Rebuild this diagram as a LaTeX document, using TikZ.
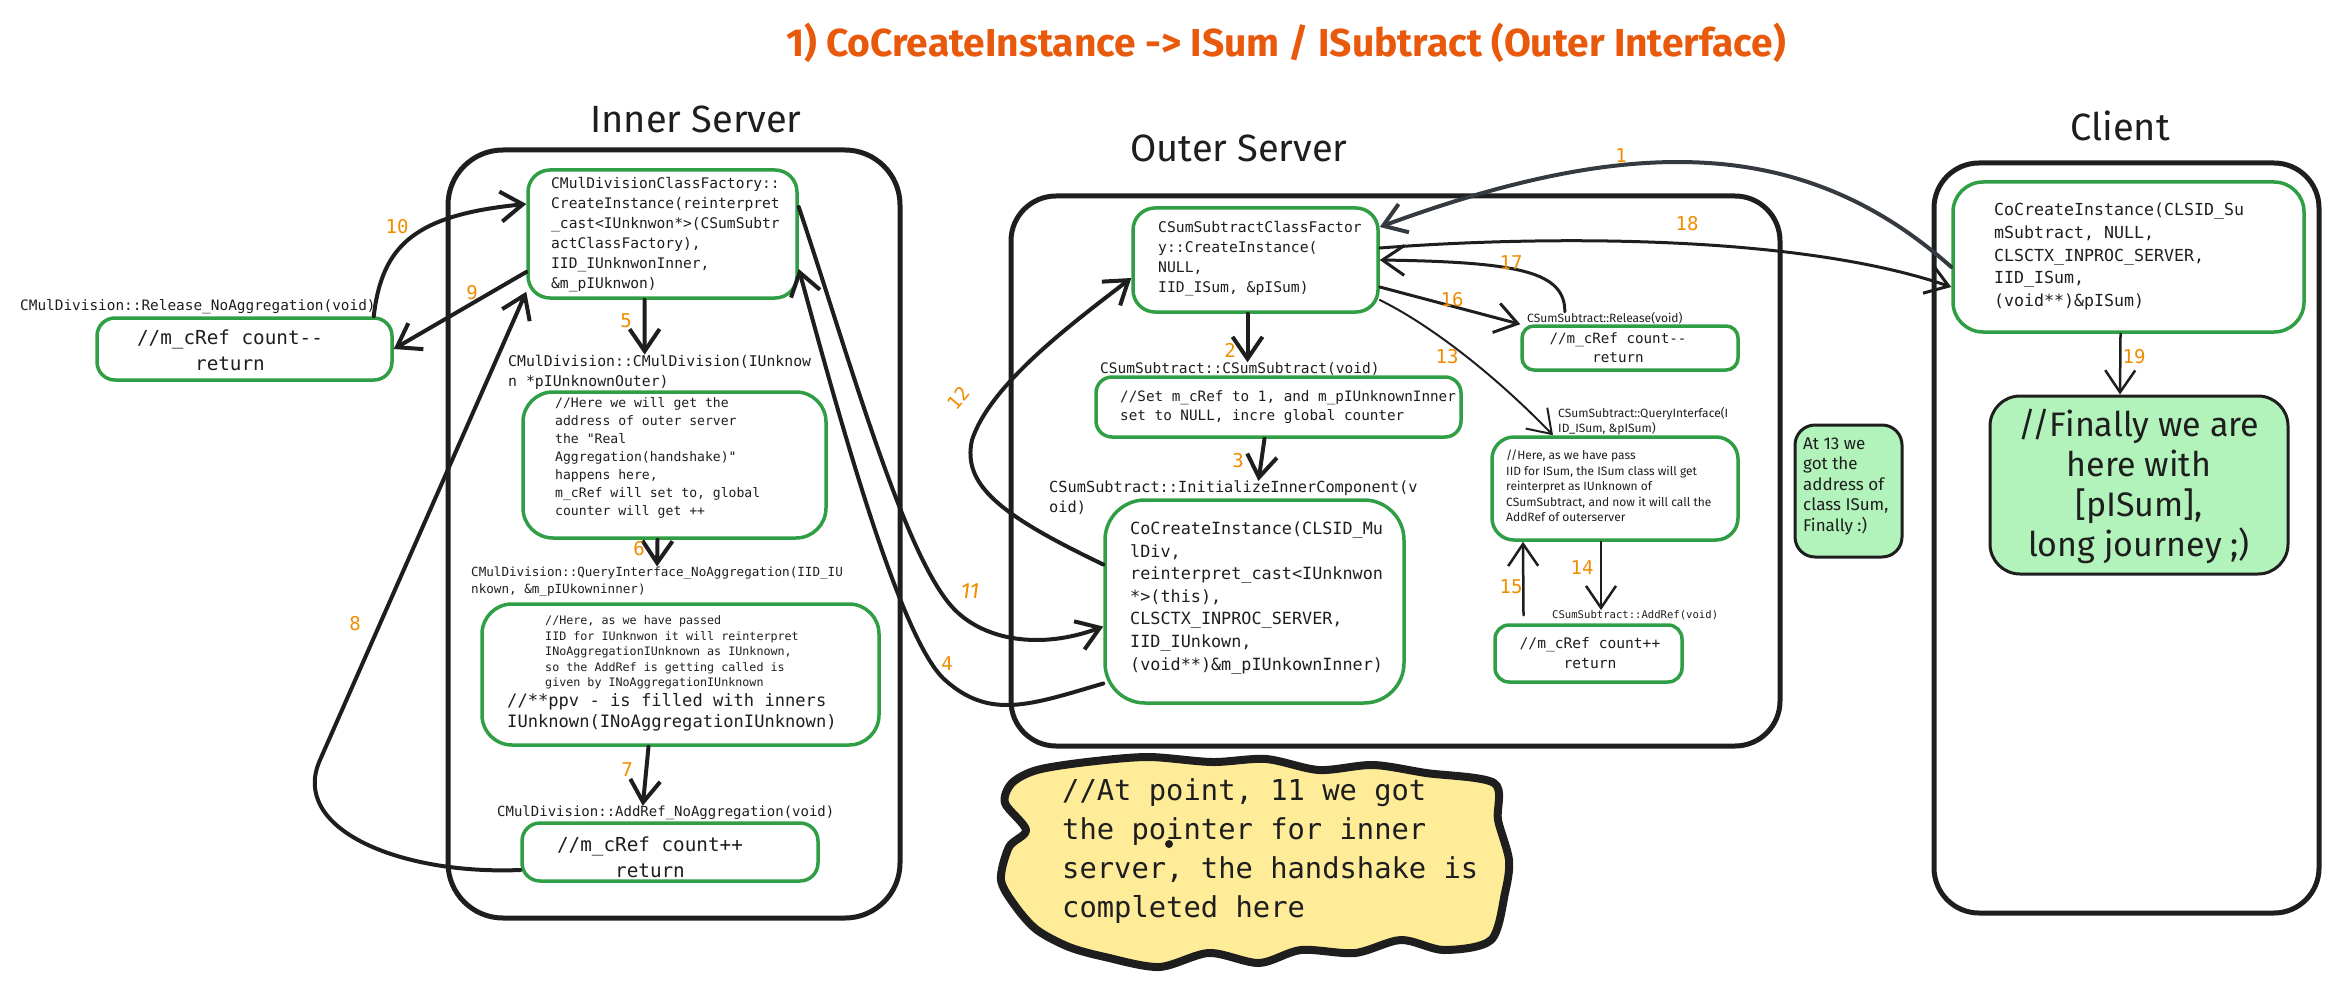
\documentclass[tikz,border=0pt]{standalone}
\usepackage{fontspec}
\setmainfont{Fira Sans}
\setmonofont{DejaVu Sans Mono}
\newfontfamily\handfont{Fira Sans}
\usetikzlibrary{arrows.meta,fit}

\definecolor{ink}{HTML}{1E1E1E}
\definecolor{boxgreen}{HTML}{2F9E44}
\definecolor{numorange}{HTML}{F08C00}
\definecolor{titleorange}{HTML}{E8590C}
\definecolor{slate}{HTML}{343A40}
\definecolor{mint}{HTML}{B2F2BB}
\definecolor{sand}{HTML}{FFEC99}

\newcommand\codefont[2]{\ttfamily\fontsize{#1}{#2}\selectfont}
\newcommand\handtext[2]{\handfont\fontsize{#1}{#2}\selectfont}

\tikzset{
    frame/.style={draw=ink, line width=5pt},
    gbox/.style={draw=boxgreen, line width=3.5pt, rounded corners=22pt, fill=white, inner sep=0pt},
    nbox/.style={draw=ink, line width=3pt, rounded corners=22pt, fill=mint, inner sep=0pt},
    code/.style={inner sep=0pt, anchor=west, align=left, text=ink},
    codec/.style={inner sep=0pt, align=center, text=ink},
    head/.style={font=\handtext{38}{44}, text=ink},
    num/.style={text=numorange, font=\codefont{19}{22}},
    arr/.style={draw=ink, line width=4pt, line cap=round, line join=round,
        -{Straight Barb[length=22pt,width=30pt]}},
}

\begin{document}
\begin{tikzpicture}[x=1pt, y=-1pt]
    \useasboundingbox (0,0) rectangle (2339,987);

    \node[font=\bfseries\fontsize{39}{44}\selectfont, text=titleorange] (title) at (1286,43)
        {1) CoCreateInstance -> ISum / ISubtract (Outer Interface)};

    \node[head] (innerhead) at (696,119) {Inner Server};
    \node[head] (outerhead) at (1239,148) {Outer Server};
    \node[head] (clienthead) at (2120,126) {Client};

    \draw[frame, rounded corners=55pt] (448,150) rectangle (900,918);
    \draw[frame, rounded corners=45pt] (1011,196) rectangle (1780,746);
    \draw[frame, rounded corners=45pt] (1934,163) rectangle (2319,913);

    % inner server
    \node[gbox, fit={(528,170) (797,298)}] (cf) {};
    \node[code, font=\codefont{14.6}{20}] (cftext) at (551,235)
        {CMulDivisionClassFactory::\\CreateInstance(reinterpret\\\_cast<IUnknwon*>(CSumSubtr\\actClassFactory),\\IID\_IUnknwonInner,\\\&m\_pIUknwon)};

    \node[code, font=\codefont{14.8}{20}] (ctorlbl) at (508,372)
        {CMulDivision::CMulDivision(IUnknow\\n *pIUnknownOuter)};
    \node[gbox, rounded corners=30pt, fit={(523,392) (826,538)}] (ctor) {};
    \node[code, font=\codefont{13.1}{18}] (ctortext) at (555,458)
        {//Here we will get the\\address of outer server\\the "Real\\Aggregation(handshake)"\\happens here,\\m\_cRef will set to, global\\counter will get ++};

    \node[code, font=\codefont{12.6}{17}] (qilbl) at (471,581.5)
        {CMulDivision::QueryInterface\_NoAggregation(IID\_IU\\nkown, \&m\_pIUkowninner)};
    \node[gbox, rounded corners=30pt, fit={(482,604) (879,745)}] (qi) {};
    \node[code, font=\codefont{11.7}{15.6}] (qismall) at (545,652.5)
        {//Here, as we have passed\\IID for IUnknwon it will reinterpret\\INoAggregationIUnknown as IUnknown,\\so the AddRef is getting called is\\given by INoAggregationIUnknown};
    \node[code, font=\codefont{17.1}{21}] (qibig) at (507,712.5)
        {//**ppv - is filled with inners\\IUnknown(INoAggregationIUnknown)};

    \node[code, font=\codefont{14}{18}] (addlbl) at (497,813) {CMulDivision::AddRef\_NoAggregation(void)};
    \node[gbox, rounded corners=18pt, fit={(522,823) (818,881)}] (addref) {};
    \node[codec, font=\codefont{19.3}{26}] (addtext) at (650,857) {//m\_cRef count++\\return};

    \node[code, font=\codefont{14.4}{18}] (rellbl) at (20,307) {CMulDivision::Release\_NoAggregation(void)};
    \node[gbox, rounded corners=18pt, fit={(97,318) (392,380)}] (rel) {};
    \node[codec, font=\codefont{19.3}{26}] (reltext) at (230,350) {//m\_cRef count-{}-\\return};

    % outer server
    \node[gbox, fit={(1133,208) (1378,312)}] (sf) {};
    \node[code, font=\codefont{14.7}{20}] (sftext) at (1158,259)
        {CSumSubtractClassFactor\\y::CreateInstance(\\NULL,\\IID\_ISum, \&pISum)};

    \node[code, font=\codefont{14.5}{18}] (sslbl) at (1100,369) {CSumSubtract::CSumSubtract(void)};
    \node[gbox, rounded corners=16pt, fit={(1096,377) (1461,437)}] (ss) {};
    \node[code, font=\codefont{14.3}{19}] (sstext) at (1120,407.5)
        {//Set m\_cRef to 1, and m\_pIUnknownInner\\set to NULL, incre global counter};

    \node[code, font=\codefont{15.3}{20}] (initlbl) at (1049,498)
        {CSumSubtract::InitializeInnerComponent(v\\oid)};
    \node[gbox, rounded corners=40pt, fit={(1105,500) (1404,703)}] (init) {};
    \node[code, font=\codefont{16.8}{22.6}] (inittext) at (1130,598)
        {CoCreateInstance(CLSID\_Mu\\lDiv,\\reinterpret\_cast<IUnknwon\\{}*>(this),\\CLSCTX\_INPROC\_SERVER,\\IID\_IUnkown,\\(void**)\&m\_pIUnkownInner)};

    \node[code, font=\handtext{12}{15}] (srellbl) at (1527,318) {CSumSubtract::Release(void)};
    \node[gbox, rounded corners=12pt, fit={(1522,326) (1738,370)}] (srel) {};
    \node[codec, font=\codefont{14.2}{19}] (sreltext) at (1618,348) {//m\_cRef count-{}-\\return};

    \node[code, font=\handtext{12}{15}] (sqilbl) at (1558,421.5)
        {CSumSubtract::QueryInterface(I\\ID\_ISum, \&pISum)};
    \node[gbox, rounded corners=22pt, fit={(1492,437) (1738,540)}] (sqi) {};
    \node[code, font=\handtext{12}{15.5}] (sqitext) at (1506,486)
        {//Here, as we have pass\\IID for ISum, the ISum class will get\\reinterpret as IUnknown of\\CSumSubtract, and now it will call the\\AddRef of outerserver};

    \node[code, font=\codefont{10.6}{13}] (saddlbl) at (1552,615) {CSumSubtract::AddRef(void)};
    \node[gbox, rounded corners=14pt, fit={(1495,625) (1682,682)}] (sadd) {};
    \node[codec, font=\codefont{14.6}{20}] (saddtext) at (1590,653) {//m\_cRef count++\\return};

    \node[nbox, rounded corners=20pt, fit={(1795,425) (1902,557)}] (note13) {};
    \node[code, font=\handtext{17}{20.5}] (note13text) at (1803,486)
        {At 13 we\\got the\\address of\\class ISum,\\Finally :)};

    % client
    \node[gbox, rounded corners=30pt, fit={(1953,182) (2304,332)}] (cli) {};
    \node[code, font=\codefont{16.6}{22.7}] (clitext) at (1994,256.5)
        {CoCreateInstance(CLSID\_Su\\mSubtract, NULL,\\CLSCTX\_INPROC\_SERVER,\\IID\_ISum,\\(void**)\&pISum)};

    \node[nbox, rounded corners=30pt, fit={(1990,396) (2288,574)}] (fin) {};
    \node[codec, font=\handtext{34}{40}] (fintext) at (2139,486)
        {//Finally we are\\here with\\{[pISum],}\\long journey ;)};

    % handshake note
    \draw[draw=ink, line width=8pt, fill=sand, line join=round] plot[smooth cycle] coordinates {
        (1012,783) (1037,770) (1087,762) (1148,757) (1212,762) (1266,759) (1319,770)
        (1373,765) (1426,773) (1494,783) (1498,820) (1509,860) (1505,893) (1491,940)
        (1444,950) (1401,940) (1355,953) (1301,950) (1259,963) (1209,953) (1159,967)
        (1105,957) (1069,947) (1037,930) (1016,907) (1001,880) (1009,847) (1026,830) (1005,803)};
    \node[code, font=\codefont{28.8}{39}] (cloudtext) at (1062,851)
        {//At point, 11 we got\\the pointer for inner\\server, the handshake is\\completed here};
    \fill[ink] (1169,844) circle (4);

    % calls
    \draw[arr, draw=slate] ([yshift=-10pt]cli.west) .. controls (1803,135) and (1630,135) .. ([yshift=33pt]sf.east);
    \draw[arr] ([xshift=-8pt]sf.south) -- ([xshift=-8pt]sf.south |- sslbl.north);
    \draw[arr] ([xshift=-14pt]ss.south) -- ([xshift=25pt]initlbl.north);
    \draw[arr] ([yshift=-82pt]init.west) .. controls (1030,705) and (990,720) .. (945,680)
        .. controls (900,640) and (840,420) .. ([yshift=-35pt]cf.east);
    \draw[arr] ([xshift=-18pt]cf.south) -- ([xshift=-15pt]ctorlbl.north);
    \draw[arr] ([xshift=-17pt]ctor.south) -- (qilbl.north);
    \draw[arr] ([xshift=-32pt]qi.south) -- ([xshift=-23pt]addlbl.north);
    \draw[arr] ([yshift=-18pt]addref.west) .. controls (400,875) and (289,829) .. (320,760)
        -- ([yshift=8pt]cf.south west);
    \draw[arr] ([yshift=-38pt]cf.west) -- (rel.east);
    \draw[arr] ([xshift=-20pt]rel.north east) .. controls (382,245) and (415,215) .. ([yshift=30pt]cf.west);
    \draw[arr] ([yshift=27pt]cf.east) .. controls (850,360) and (905,560) .. (955,610)
        .. controls (985,640) and (1040,650) .. ([yshift=-25pt]init.west);
    \draw[arr] ([yshift=37pt]init.west) .. controls (1000,515) and (962,485) .. (972,440)
        .. controls (990,385) and (1070,325) .. ([yshift=-18pt]sf.west);
    \draw[arr, line width=2pt] ([yshift=-40pt]sf.east) .. controls (1425,322) and (1490,370) .. ([xshift=-62pt]sqi.north);
    \draw[arr, line width=2.5pt] ([xshift=-14pt]sqi.south) -- ([xshift=-14pt]sqi.south |- saddlbl.north);
    \draw[arr, line width=2.5pt] ([xshift=-65pt,yshift=8pt]sadd.north) -- ([xshift=-92pt]sqi.south);
    \draw[arr, line width=3pt] ([yshift=-27pt]sf.east) -- (srel.north west);
    \draw[arr, line width=3pt] ([xshift=-40pt]srellbl.north) .. controls (1565,272) and (1520,262) .. (sf.east);
    \draw[arr, line width=3pt] ([yshift=12pt]sf.east) .. controls (1550,235) and (1800,235) .. ([yshift=-30pt]cli.west);
    \draw[arr, line width=2.5pt] ([xshift=-8pt]cli.south) -- ([xshift=-19pt]fin.north);

    % step numbers
    \foreach \p/\n in {(1621,156)/1,(1230,350)/2,(1238,461)/3,(947,664)/4,(626,321)/5,
        (639,549)/6,(627,770)/7,(355,624)/8,(472,293)/9,(397,227)/10,(1447,357)/13,
        (1582,568)/14,(1511,587)/15,(1452,300)/16,(1511,263)/17,(1687,224)/18,(2134,357)/19} {
        \node[num] (l\n) at \p {\n};
    }
    \node[num, font=\handtext{22}{24}\itshape] (l11) at (970,591) {11};
    \node[num, rotate=50] (l12) at (958,398) {12};
\end{tikzpicture}
\end{document}
